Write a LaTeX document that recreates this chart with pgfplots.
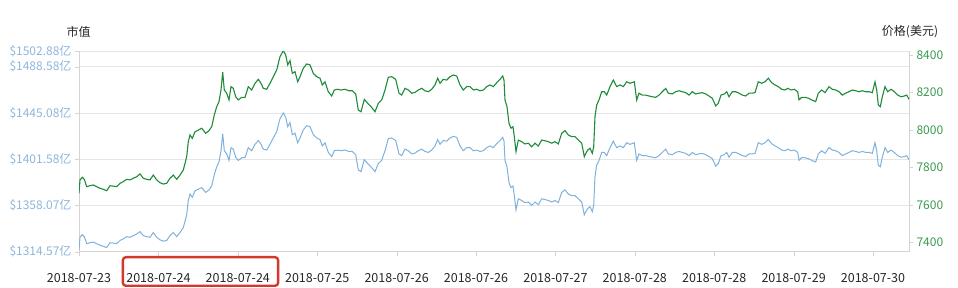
\documentclass[border=0pt]{standalone}
\usepackage{fontspec}
\setmainfont{Noto Sans CJK SC}
\usepackage{pgfplots}
\usepackage{pgfplotstable}
\pgfplotsset{compat=1.18}

\definecolor{capblue}{HTML}{7FB1DC}
\definecolor{pricegreen}{HTML}{1E8A3A}
\definecolor{caplabel}{HTML}{8DB6DB}
\definecolor{pricelabel}{HTML}{3A9A50}
\definecolor{gridgray}{HTML}{E6E6E6}
\definecolor{axisgray}{HTML}{D4D4D4}
\definecolor{boxred}{HTML}{D4372C}

% t = time (one x tick = 79.4), price in USD, cap in 亿 USD
\pgfplotstableread{
t price cap
0 7662 1316.1
1 7733 1328.1
3.3 7747 1330.6
5.3 7736 1328.7
7.7 7697 1322.1
11 7702 1323.0
14.3 7706 1323.6
17.7 7697 1322.1
21 7688 1320.6
24.3 7683 1319.7
27.7 7675 1318.4
31 7702 1323.0
34.3 7700 1322.7
37.7 7697 1322.1
41 7715 1325.1
44.3 7724 1326.6
47.7 7736 1328.7
51 7733 1328.1
54.3 7742 1329.7
57.7 7750 1331.1
61 7765 1333.5
64.3 7742 1329.7
67.7 7736 1328.7
71 7733 1328.1
74.3 7759 1332.6
77.7 7733 1328.1
81 7718 1325.7
84.3 7711 1324.5
87.7 7715 1325.1
91 7742 1329.7
94.3 7759 1332.6
97.7 7736 1328.7
101 7759 1332.6
104.3 7786 1337.2
107.7 7857 1349.2
109.3 7937 1362.7
111 7973 1368.8
113.3 7955 1365.8
116 7990 1371.8
119.3 7999 1373.3
122.7 8009 1374.8
126.7 7982 1370.3
130 7996 1372.7
132.7 8017 1376.3
135.3 8080 1386.9
137.7 8124 1394.4
140 8151 1398.9
142 8213 1409.5
143.7 8308 1425.5
145.3 8213 1409.5
147.7 8196 1406.5
150 8160 1400.4
152 8231 1412.4
154.3 8222 1411.0
156.7 8177 1403.4
159.3 8160 1400.4
162.7 8174 1402.9
166 8174 1402.9
169.3 8231 1412.4
172.7 8213 1409.5
176 8249 1415.5
179.3 8270 1419.1
182 8249 1415.5
184.3 8222 1411.0
187.7 8217 1410.1
191 8249 1415.5
194.3 8284 1421.5
197.7 8320 1427.5
201 8391 1439.6
204.3 8423 1445.0
206.7 8400 1441.1
208.7 8347 1432.1
211 8370 1435.9
213.3 8302 1424.6
216 8311 1426.0
218.7 8257 1417.0
221 8284 1421.5
224.3 8329 1429.1
227.7 8352 1433.0
231 8347 1432.1
234.3 8302 1424.6
237.7 8284 1421.5
241 8276 1420.0
243.3 8240 1414.0
246 8257 1417.0
249.3 8204 1407.9
252.7 8181 1404.0
255.3 8213 1409.5
258.7 8217 1410.1
262 8213 1409.5
266 8217 1410.1
270 8209 1408.8
273.3 8209 1408.8
276.7 8192 1405.8
279.3 8106 1391.4
282 8097 1389.8
285.3 8163 1401.1
288.7 8142 1397.4
292 8124 1394.4
296 8097 1389.8
299.3 8142 1397.4
302.7 8160 1400.4
306 8213 1409.5
309.3 8281 1420.9
312.7 8284 1421.5
316.7 8270 1419.1
320 8196 1406.5
322.7 8186 1404.9
326 8222 1411.0
329.3 8213 1409.5
332.7 8196 1406.5
336 8200 1407.2
339.3 8213 1409.5
342.7 8222 1411.0
346 8209 1408.8
349.3 8204 1407.9
352.7 8217 1410.1
356 8240 1414.0
358.7 8276 1420.0
361 8249 1415.5
364.3 8270 1419.1
367.7 8266 1418.5
371 8284 1421.5
374.3 8293 1423.0
377.7 8288 1422.1
381 8240 1414.0
384.3 8213 1409.5
387.7 8231 1412.4
391 8231 1412.4
394.3 8213 1409.5
397.7 8217 1410.1
401 8209 1408.8
404.3 8213 1409.5
407.7 8231 1412.4
411 8240 1414.0
414.3 8231 1412.4
417.7 8252 1416.1
421 8270 1419.1
423.7 8288 1422.1
425 8266 1418.5
426 8160 1400.4
428 8124 1394.4
430 8035 1379.4
432 8009 1374.8
434 8017 1376.3
435.3 7964 1367.3
437 7884 1353.7
439.3 7946 1364.3
442.7 7937 1362.7
446 7925 1360.7
449.3 7929 1361.3
452.7 7910 1358.2
456 7929 1361.3
459.3 7914 1358.8
462.7 7946 1364.3
466 7942 1363.6
469.3 7937 1362.7
472.7 7929 1361.3
476 7937 1362.7
479.3 7925 1360.7
482.7 7982 1370.3
486 7996 1372.7
489.3 7973 1368.8
492.7 7964 1367.3
496 7964 1367.3
499.3 7946 1364.3
502.7 7929 1361.3
505.3 7857 1349.2
506 7866 1350.7
508.7 7893 1355.2
511 7902 1356.8
513.3 7875 1352.2
514.7 7910 1358.2
516 8071 1385.3
517.7 8133 1395.9
520 8160 1400.4
522.7 8204 1407.9
525.3 8204 1407.9
527.7 8186 1404.9
531 8231 1412.4
534.3 8266 1418.5
537.7 8231 1412.4
541 8240 1414.0
544.3 8231 1412.4
547.7 8257 1417.0
551 8249 1415.5
555.3 8257 1417.0
557.7 8160 1400.4
560 8196 1406.5
563.3 8186 1404.9
566.7 8186 1404.9
570 8181 1404.0
573.3 8177 1403.4
576.7 8174 1402.9
580 8186 1404.9
583.3 8204 1407.9
586.7 8222 1411.0
589.3 8196 1406.5
593.3 8192 1405.8
596.7 8204 1407.9
600 8209 1408.8
603.3 8204 1407.9
606.7 8199 1407.0
610 8186 1404.9
613.3 8204 1407.9
616.7 8192 1405.8
620 8196 1406.5
623.3 8199 1407.0
626.7 8192 1405.8
630 8181 1404.0
633.3 8169 1402.0
636.7 8128 1395.0
639.3 8142 1397.4
642 8186 1404.9
645.3 8192 1405.8
647.7 8204 1407.9
650 8177 1403.4
653.3 8204 1407.9
656.7 8204 1407.9
660 8196 1406.5
663.3 8186 1404.9
666.7 8181 1404.0
670 8196 1406.5
673.3 8196 1406.5
676 8199 1407.0
679.3 8257 1417.0
682.7 8249 1415.5
686 8257 1417.0
689.3 8276 1420.0
692.7 8252 1416.1
696 8240 1414.0
699.3 8231 1412.4
702.7 8217 1410.1
706 8213 1409.5
708.7 8222 1411.0
712 8213 1409.5
715.3 8217 1410.1
718.7 8204 1407.9
720 8160 1400.4
722.7 8174 1402.9
726 8174 1402.9
729.3 8169 1402.0
732.7 8160 1400.4
736.7 8151 1398.9
739.3 8196 1406.5
742.7 8213 1409.5
746 8199 1407.0
750 8231 1412.4
753.3 8217 1410.1
756.7 8213 1409.5
760 8204 1407.9
763.3 8186 1404.9
766.7 8196 1406.5
770 8204 1407.9
773.3 8213 1409.5
776.7 8209 1408.8
780 8204 1407.9
783.3 8209 1408.8
786.7 8204 1407.9
790 8204 1407.9
793.3 8199 1407.0
796 8257 1417.0
797.7 8213 1409.5
799.3 8133 1395.9
801.3 8124 1394.4
803.3 8177 1403.4
806 8231 1412.4
808.7 8204 1407.9
812 8217 1410.1
815.3 8204 1407.9
818.7 8186 1404.9
822 8177 1403.4
825.3 8181 1404.0
827.7 8186 1404.9
830 8163 1401.1
}\btc

\pgfplotsset{
  frame/.style={
    scale only axis, width=830pt, height=200.3pt,
    at={(79pt,36.3pt)}, anchor=south west,
    xmin=0, xmax=830,
    tick label style={font=\fontsize{12}{14}\selectfont},
    /pgf/number format/assume math mode=true,
    /pgf/number format/1000 sep={},
    axis line style={draw=axisgray,-},
    tick style={draw=axisgray},
    tick align=outside, major tick length=4pt,
  }
}

\begin{document}
\begin{tikzpicture}
\useasboundingbox (0pt,0pt) rectangle (958pt,288pt);

\begin{axis}[frame,
  axis x line*=bottom, axis y line*=left,
  ymin=1314.57, ymax=1502.88,
  ytick={1314.57,1358.07,1401.58,1445.08,1488.58,1502.88},
  yticklabels={\$1314.57亿,\$1358.07亿,\$1401.58亿,\$1445.08亿,\$1488.58亿,\$1502.88亿},
  yticklabel style={text=caplabel},
  xtick={0,79.4,158.8,238.2,317.6,397,476.4,555.8,635.2,714.6,794},
  xticklabels={2018-07-23,2018-07-24,2018-07-24,2018-07-25,2018-07-26,2018-07-26,2018-07-27,2018-07-28,2018-07-28,2018-07-29,2018-07-30},
  xticklabel style={text=black!85, font=\fontsize{12.5}{14}\selectfont, yshift=-14pt},
  ymajorgrids, grid style={draw=gridgray},
]
\addplot[capblue, line width=1pt] table[x=t,y=cap]{\btc};
\end{axis}

\begin{axis}[frame,
  axis x line=none, axis y line*=right,
  ymin=7349.8, ymax=8419.2,
  ytick={7400,7600,7800,8000,8200,8400},
  yticklabel style={text=pricelabel},
]
\addplot[pricegreen, line width=1.1pt] table[x=t,y=price]{\btc};
\end{axis}

\node[font=\fontsize{12}{14}\selectfont, text=black!85] at (78.7pt,256.3pt) {市值};
\node[font=\fontsize{12}{14}\selectfont, text=black!85] at (910pt,256pt) {价格(美元)};

\draw[boxred, line width=2.4pt, rounded corners=3pt] (122.9pt,2.2pt) rectangle (278.1pt,30.8pt);
\end{tikzpicture}
\end{document}
